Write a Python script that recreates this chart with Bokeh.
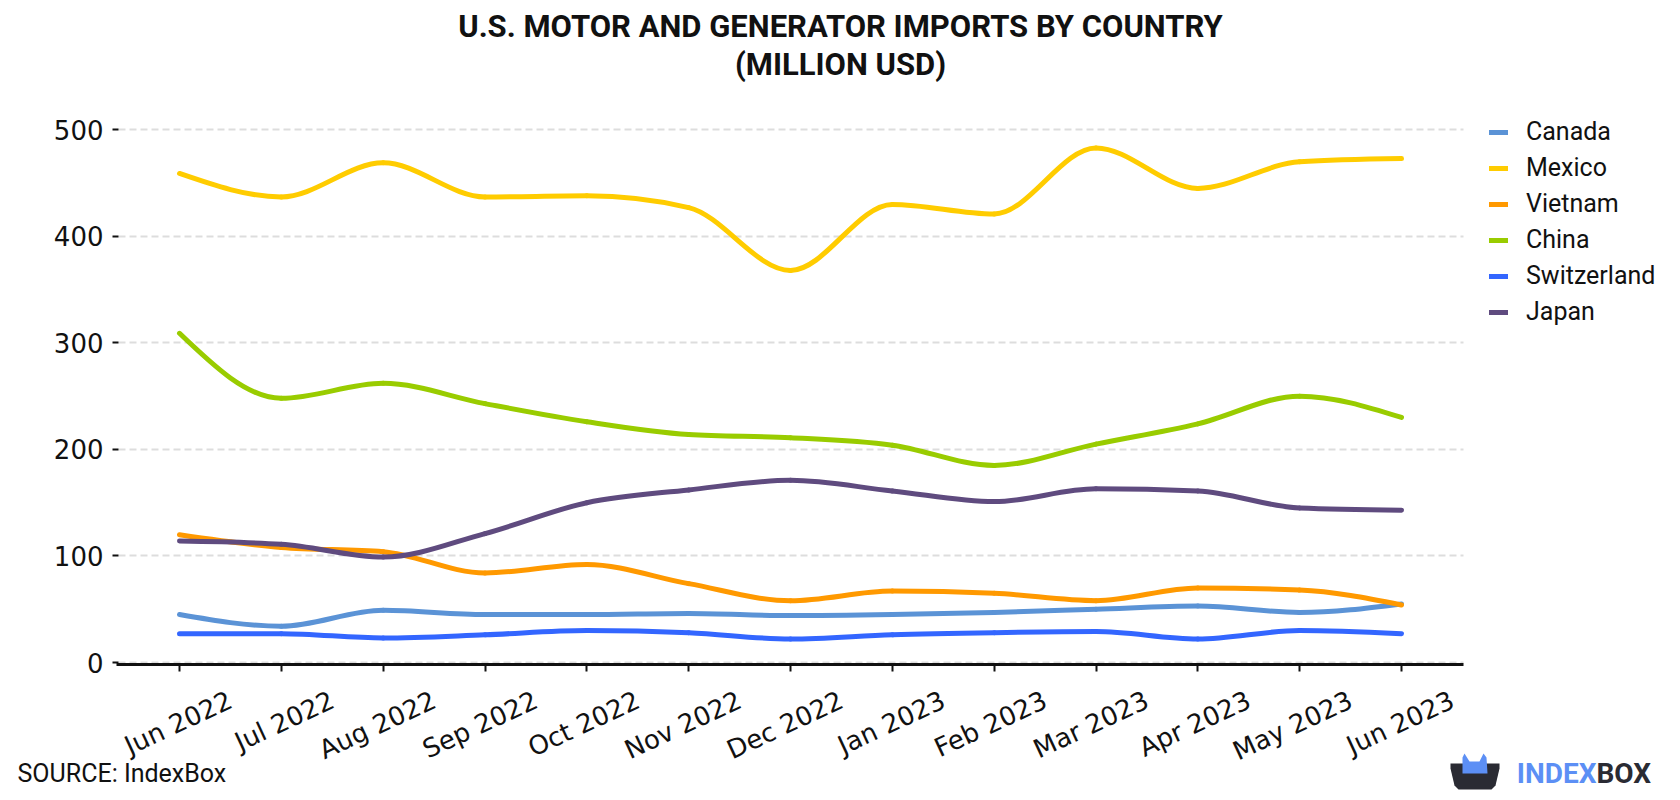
import math
import numpy as np
from bokeh.plotting import figure
from bokeh.models import (Label, Legend, LegendItem, FixedTicker, Range1d,
                          PolyAnnotation, ColumnDataSource)
from bokeh.embed import file_html
from bokeh.resources import INLINE

# ---------------- data ----------------
months = ["Jun 2022", "Jul 2022", "Aug 2022", "Sep 2022", "Oct 2022", "Nov 2022",
          "Dec 2022", "Jan 2023", "Feb 2023", "Mar 2023", "Apr 2023", "May 2023",
          "Jun 2023"]
canada = [45, 34, 49, 45, 45, 46, 44, 45, 47, 50, 53, 47, 55]
mexico = [459, 437, 469, 437, 438, 427, 368, 430, 421, 483, 445, 470, 473]
vietnam = [120, 108, 104, 84, 92, 74, 58, 67, 65, 58, 70, 68, 54]
china = [309, 248, 262, 243, 226, 214, 211, 204, 185, 205, 224, 250, 230]
switzerland = [27, 27, 23, 26, 30, 28, 22, 26, 28, 29, 22, 30, 27]
japan = [114, 111, 99, 121, 150, 162, 171, 161, 151, 163, 161, 145, 143]
y_ticks = [0, 100, 200, 300, 400, 500]

series = [
    ("Canada", canada, "#5b93d6"),
    ("Mexico", mexico, "#ffcc00"),
    ("Vietnam", vietnam, "#ff9900"),
    ("China", china, "#99cc00"),
    ("Switzerland", switzerland, "#3366ff"),
    ("Japan", japan, "#5f4b7f"),
]

# ---------------- layout (frame = whole canvas) ----------------
W, H = 1680, 800
PX_FIRST, PX_LAST = 179.0, 1401.0      # x pixel of first / last month
PY_ZERO, PY_500 = 662.0, 129.3         # y pixel of 0 and 500
KX = (PX_LAST - PX_FIRST) / 12.0
KY = (PY_ZERO - PY_500) / 500.0


def dx(px):
    return (px - PX_FIRST) / KX


def dy(py):
    return (PY_ZERO - py) / KY


p = figure(width=W, height=H, output_backend="svg", toolbar_location=None,
           title=None, min_border=0,
           x_range=Range1d(dx(0), dx(W)), y_range=Range1d(dy(H), dy(0)))
p.outline_line_color = None
p.background_fill_color = "white"
p.border_fill_color = "white"

AX_LEFT, AX_RIGHT = dx(116), dx(1463)

p.xgrid.visible = False
g = p.ygrid[0]
g.grid_line_color = "#dddddd"
g.grid_line_width = 2
g.grid_line_dash = "7 4"
try:
    g.cross_bounds = (dx(118), AX_RIGHT)
except Exception:
    pass

p.yaxis.fixed_location = dx(118)
p.yaxis.ticker = FixedTicker(ticks=y_ticks)
p.yaxis.axis_line_color = None
p.yaxis.major_tick_out = 6
p.yaxis.major_tick_in = 0
p.yaxis.major_tick_line_width = 2
p.yaxis.major_tick_line_color = "#111111"
p.yaxis.minor_tick_out = 0
p.yaxis.minor_tick_in = 0
p.yaxis.major_label_standoff = 9
p.yaxis.major_label_text_font = "DejaVu Sans"
p.yaxis.major_label_text_font_size = "26px"
p.yaxis.major_label_text_color = "#111111"

# x axis: labels sit on a range shifted by SHIFT so that the rotated
# (right-anchored) labels end up centred under their tick marks; the tick
# marks themselves are drawn as minor ticks at the true month positions.
SHIFT = 51.0 / KX
p.extra_x_ranges = {"lab": Range1d(dx(0) - SHIFT, dx(W) - SHIFT)}
xa = p.xaxis[0]
xa.x_range_name = "lab"
xa.fixed_location = dy(664)
xa.bounds = (AX_LEFT - SHIFT, AX_RIGHT - SHIFT)
xa.ticker = FixedTicker(ticks=list(range(len(months))),
                        minor_ticks=[i - SHIFT for i in range(len(months))])
xa.major_label_overrides = {i: m for i, m in enumerate(months)}
xa.major_label_orientation = math.radians(25)
xa.major_label_standoff = 27
xa.major_label_text_font = "DejaVu Sans"
xa.major_label_text_font_size = "26px"
xa.major_label_text_color = "#111111"
xa.axis_line_width = 3
xa.axis_line_color = "#111111"
xa.major_tick_out = 0
xa.major_tick_in = 0
xa.minor_tick_out = 7
xa.minor_tick_in = 0
xa.minor_tick_line_width = 2
xa.minor_tick_line_color = "#111111"


def monotone_tangents(y):
    y = np.asarray(y, float)
    s = np.diff(y)
    n = len(y)
    t = np.zeros(n)
    for i in range(1, n - 1):
        s0, s1 = s[i - 1], s[i]
        pp = (s0 + s1) / 2.0
        t[i] = (np.sign(s0) + np.sign(s1)) * min(abs(s0), abs(s1), 0.5 * abs(pp))
    t[0] = (3 * s[0] - t[1]) / 2.0
    t[-1] = (3 * s[-1] - t[-2]) / 2.0
    return t


xs = np.arange(len(months), dtype=float)
items = []
for name, vals, col in series:
    y = np.asarray(vals, float)
    t = monotone_tangents(y)
    src = ColumnDataSource(dict(
        x0=xs[:-1], y0=y[:-1], x1=xs[1:], y1=y[1:],
        cx0=xs[:-1] + 1 / 3, cy0=y[:-1] + t[:-1] / 3,
        cx1=xs[1:] - 1 / 3, cy1=y[1:] - t[1:] / 3))
    r = p.bezier(x0="x0", y0="y0", x1="x1", y1="y1", cx0="cx0", cy0="cy0",
                 cx1="cx1", cy1="cy1", source=src, line_color=col,
                 line_width=5, line_cap="round")
    items.append(LegendItem(label=name, renderers=[r], index=0))

legend = Legend(items=items, location=(1489, H - 326),
                glyph_width=19, glyph_height=28, label_height=28,
                label_standoff=18, spacing=7, padding=0, margin=0,
                border_line_color=None, background_fill_alpha=0,
                label_text_font="Roboto", label_text_font_size="25px",
                label_text_color="#111111")
p.add_layout(legend)

# title
for txt, yy in [("U.S. MOTOR AND GENERATOR IMPORTS BY COUNTRY", 26),
                ("(MILLION USD)", 64)]:
    p.add_layout(Label(x=840, y=H - yy, x_units="screen", y_units="screen",
                       text=txt, text_align="center", text_baseline="middle",
                       text_font="Roboto", text_font_style="bold",
                       text_font_size="31px", text_color="#111111"))

# source
p.add_layout(Label(x=17, y=H - 773, x_units="screen", y_units="screen",
                   text="SOURCE: IndexBox", text_align="left",
                   text_baseline="middle", text_font="Roboto",
                   text_font_size="25px", text_color="#111111"))

# logo
box_px = [(1450, 763), (1499, 763), (1499, 768), (1495, 785), (1491, 789),
          (1458, 789), (1454, 785), (1450, 768)]
crown_px = [(1462, 773), (1462, 757), (1464, 753), (1469, 761), (1479, 761),
            (1483, 753), (1486, 757), (1487, 773)]
p.add_layout(PolyAnnotation(xs=[a for a, b in box_px], ys=[H - b for a, b in box_px],
                            xs_units="screen", ys_units="screen",
                            fill_color="#2a2b33", fill_alpha=1, line_color=None))
p.add_layout(PolyAnnotation(xs=[a for a, b in crown_px], ys=[H - b for a, b in crown_px],
                            xs_units="screen", ys_units="screen",
                            fill_color="#5c8ff5", fill_alpha=1, line_color=None))
p.add_layout(Label(x=1596, y=H - 773, x_units="screen", y_units="screen",
                   text="INDEX", text_align="right", text_baseline="middle",
                   text_font="Roboto", text_font_style="bold",
                   text_font_size="28px", text_color="#5c8ff5"))
p.add_layout(Label(x=1596, y=H - 773, x_units="screen", y_units="screen",
                   text="BOX", text_align="left", text_baseline="middle",
                   text_font="Roboto", text_font_style="bold",
                   text_font_size="28px", text_color="#2a2b33"))

open("out.html", "w").write(file_html(p, INLINE))
